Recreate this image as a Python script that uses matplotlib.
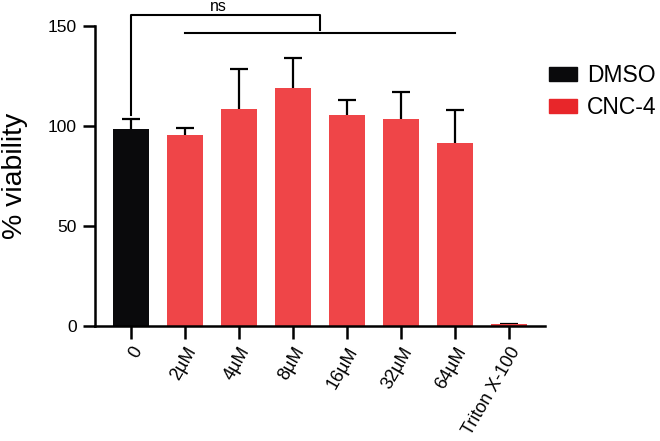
import matplotlib
matplotlib.use("Agg")
import matplotlib.pyplot as plt
import numpy as np
from matplotlib.patches import Patch

plt.rcParams['font.family'] = ['Liberation Sans', 'DejaVu Sans']

categories = ["0", "2µM", "4µM", "8µM", "16µM", "32µM", "64µM", "Triton X-100"]
means = [98.5, 95.3, 108.3, 119.2, 105.5, 103.3, 91.7, 0.8]
errors = [5.0, 3.9, 20.2, 14.6, 7.7, 13.9, 16.3, 0.4]
groups = ["DMSO", "CNC-4", "CNC-4", "CNC-4", "CNC-4", "CNC-4", "CNC-4", "CNC-4"]
yticks = [0, 50, 100, 150]

bar_colors = {"DMSO": "#0a0a0c", "CNC-4": "#ef4548"}
legend_colors = {"DMSO": "#0a0a0c", "CNC-4": "#e8262a"}

fig = plt.figure(figsize=(6.6, 4.41), dpi=100)
ax = fig.add_axes([95/660, 1-326/441, 450/660, 300/441])

x = np.arange(len(categories))
cols = [bar_colors[g] for g in groups]
ax.bar(x, means, width=0.667, color=cols, zorder=2)
eb = ax.errorbar(x, means, yerr=[np.zeros(len(errors)), errors], fmt='none',
                 ecolor='black', elinewidth=1.6, capsize=6.5, capthick=1.6, zorder=1)
# hide the lower caps (one-sided error bars)
eb[1][0].set_visible(False)

ax.set_xlim(-0.667, 7.667)
ax.set_ylim(0, 150)
ax.set_yticks(yticks)
ax.set_xticks(x)
ax.set_xticklabels(categories, rotation=60, ha='right', va='top', rotation_mode='anchor', fontsize=13)
ax.tick_params(axis='y', labelsize=12.5, length=9, width=1.8, pad=4)
ax.tick_params(axis='x', length=9, width=1.8, pad=4)
for s in ['top', 'right']:
    ax.spines[s].set_visible(False)
for s in ['left', 'bottom']:
    ax.spines[s].set_linewidth(1.8)
ax.set_ylabel("% viability", fontsize=20.5, labelpad=14)

# significance annotation
ax.plot([0, 0, 3.5, 3.5], [105.5, 155.5, 155.5, 148], color='black', lw=1.5, clip_on=False)
ax.plot([1, 6], [146.5, 146.5], color='black', lw=1.5, clip_on=False)
ax.text(1.62, 157.3, "ns", ha='center', va='baseline', fontsize=11.5)

# legend
handles = [Patch(color=legend_colors[g]) for g in ["DMSO", "CNC-4"]]
fig.legend(handles, ["DMSO", "CNC-4"], loc='upper left', bbox_to_anchor=(549/660, 1-64/441),
           frameon=False, fontsize=16.5, handlelength=1.22, handleheight=0.52, labelspacing=0.4,
           handletextpad=0.44, borderpad=0, borderaxespad=0)

fig.savefig("out.png", dpi=100)
